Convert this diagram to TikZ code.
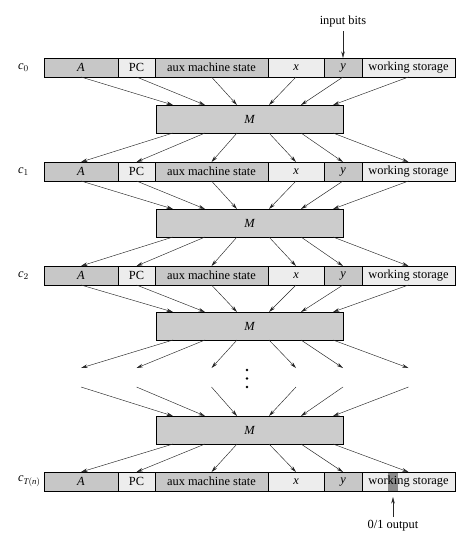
\documentclass[tikz,border=0pt]{standalone}
\usepackage{fontspec}
\setmainfont{Liberation Serif}
\usepackage{tikz}
\usetikzlibrary{arrows.meta}
\usetikzlibrary{calc}
\usetikzlibrary{positioning}
\tikzset{>=latex}

\begin{document}
\begin{tikzpicture}[
        x=1pt, y=1pt,
        font=\fontsize{12.4}{14}\selectfont,
        cell/.style={draw, line width=0.5pt, minimum height=19pt, inner sep=0pt, outer sep=0pt},
        dark/.style={cell, fill=black!22},
        light/.style={cell, fill=black!7},
        machine/.style={draw, line width=0.5pt, fill=black!20, minimum width=187pt, minimum height=28pt, inner sep=0pt, outer sep=0pt, anchor=north west},
        flow/.style={line width=0.45pt, draw=black!85, -{Stealth[length=6.5pt, width=3.5pt]}},
        outbit/.style={path picture={\fill[black!45] ([xshift=26pt]path picture bounding box.south west) rectangle ([xshift=36pt]path picture bounding box.north west);}}
    ]
    \useasboundingbox (0,0) rectangle (472,-549);

    %=== Layout parameters ===%
    \def\rowx{44}
    \def\mx{156}

    %=== Configuration row ===%
    \newcommand{\cfgrow}[4][]{
        \node[dark, minimum width=74pt, anchor=north west] (#2A) at (\rowx,-#3) {$\mathit{A}$};
        \node[light, minimum width=37pt, right=0pt of #2A] (#2PC) {PC};
        \node[dark, minimum width=113pt, right=0pt of #2PC] (#2aux) {aux machine state};
        \node[light, minimum width=56pt, right=0pt of #2aux] (#2x) {$\mathit{x}$};
        \node[dark, minimum width=38pt, right=0pt of #2x] (#2y) {$\mathit{y}$};
        \node[light, minimum width=93pt, right=0pt of #2y, #1] (#2ws) {working storage};
        \node[anchor=west, inner sep=0pt] (#2lab) at (18,-#3-9.5) {#4};
    }

    %=== Machine box ===%
    \newcommand{\mstep}[2]{
        \node[machine] (#1) at (\mx,-#2) {$\mathit{M}$};
        \foreach \i in {0,...,5} {
            \coordinate (#1in\i) at ($(#1.north west)+(17+32*\i,0)$);
            \coordinate (#1out\i) at ($(#1.south west)+(17+32*\i,0)$);
        }
    }

    %=== Connectors ===%
    \newcommand{\feedin}[2]{
        \foreach \c [count=\i from 0] in {A,PC,aux,x,y,ws}
            \draw[flow] (#1\c.south) -- (#2in\i);
    }
    \newcommand{\feedout}[2]{
        \foreach \c [count=\i from 0] in {A,PC,aux,x,y,ws}
            \draw[flow] (#1out\i) -- (#2\c.north);
    }

    %=== ROWS ===%
    \cfgrow{r0}{58}{$\mathit{c}_{0}$}
    \cfgrow{r1}{162}{$\mathit{c}_{1}$}
    \cfgrow{r2}{266}{$\mathit{c}_{2}$}
    \cfgrow[outbit]{rT}{472}{$\mathit{c}_{\mathit{T}(\mathit{n})}$}

    \mstep{m1}{105}
    \mstep{m2}{209}
    \mstep{m3}{312}
    \mstep{m4}{416}

    \feedin{r0}{m1}
    \feedout{m1}{r1}
    \feedin{r1}{m2}
    \feedout{m2}{r2}
    \feedin{r2}{m3}
    \feedout{m4}{rT}

    % gap between m3 and m4
    \coordinate (gaplow) at (0,-368);
    \coordinate (gaphigh) at (0,-387);
    \foreach \c [count=\i from 0] in {A,PC,aux,x,y,ws} {
        \coordinate (gapend\c) at (r0\c.south |- gaplow);
        \coordinate (gapstart\c) at (r0\c.south |- gaphigh);
        \draw[flow] (m3out\i) -- (gapend\c);
        \draw[flow] (gapstart\c) -- (m4in\i);
    }
    \foreach \y in {370,378.5,387}
        \fill (247,-\y) circle (1.3);

    % input and output
    \node (inbits) at (343,-22) {input bits};
    \draw[flow] (inbits) -- (r0y.north);
    \coordinate (bit) at ([xshift=31pt]rTws.south west);
    \node (outbits) at (393,-526) {0/1 output};
    \draw[flow, shorten >=6pt] (outbits) -- (bit);
\end{tikzpicture}
\end{document}
